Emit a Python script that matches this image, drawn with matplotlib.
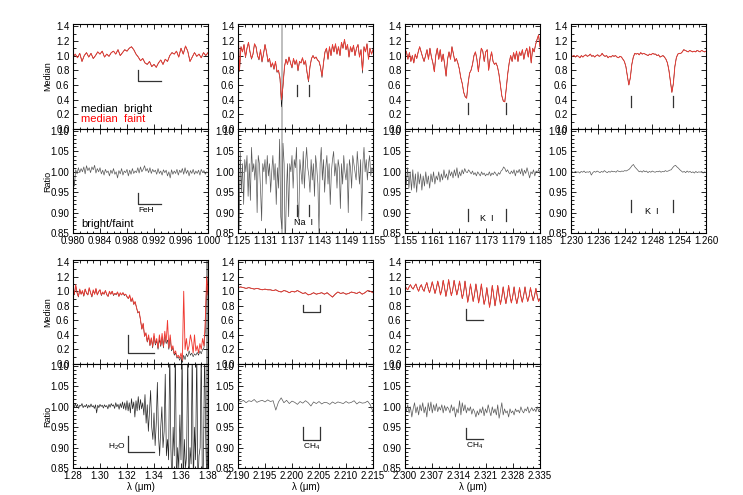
import numpy as np
import matplotlib
matplotlib.use("Agg")
import matplotlib.pyplot as plt
from matplotlib.ticker import AutoMinorLocator, FormatStrFormatter

# ---- wavelength ranges (micron) and tick settings per panel ----
ranges = {
    "A": (0.980, 1.000, "%.3f"),
    "B": (1.125, 1.155, "%.3f"),
    "C": (1.155, 1.185, "%.3f"),
    "D": (1.230, 1.260, "%.3f"),
    "E": (1.28, 1.38, "%.2f"),
    "F": (2.190, 2.215, "%.3f"),
    "G": (2.300, 2.335, "%.3f"),
}

# ---- median spectra (faint = red, bright = black) ----
medA_faint = [0.98, 1.02, 0.97, 1.03, 0.92, 1.00, 1.04, 0.98, 1.03, 0.96, 1.00, 1.05, 1.02, 1.06, 0.98,
              1.02, 0.99, 1.04, 1.06, 1.02, 1.08, 1.00, 1.04, 1.08, 1.06, 1.10, 1.12, 1.08, 1.02, 0.98,
              0.93, 0.96, 0.90, 0.88, 0.92, 0.85, 0.88, 0.84, 0.90, 0.94, 0.88, 0.95, 0.92, 1.00, 1.04,
              1.02, 1.06, 0.98, 1.10, 1.02, 1.13, 1.06, 0.92, 0.98, 1.04, 0.99, 1.02, 0.97, 1.04, 1.00, 1.04]
medA_bright = list(medA_faint)  # indistinguishable at this scale

medB_faint = [1.45, 0.80, 1.12, 1.05, 1.15, 0.98, 1.10, 1.18, 1.05, 0.96, 1.02, 1.16, 1.12, 1.00, 0.95,
              1.08, 0.92, 1.02, 1.15, 1.05, 0.92, 0.96, 0.85, 0.90, 0.82, 0.92, 0.78, 0.80, 0.70, 0.40,
              0.60, 0.85, 0.95, 0.88, 0.98, 0.90, 0.84, 0.96, 0.88, 0.94, 0.80, 0.92, 0.90, 0.97, 0.88,
              0.93, 0.78, 0.66, 0.85, 0.96, 1.00, 0.96, 0.98, 0.94, 0.92, 0.85, 0.72, 0.90, 1.05, 1.10,
              0.95, 1.12, 1.00, 1.15, 1.05, 1.16, 1.02, 1.12, 1.00, 1.18, 1.10, 1.22, 1.08, 1.15, 0.98,
              1.12, 1.05, 1.14, 1.00, 1.10, 1.15, 0.98, 1.08, 0.80, 1.12, 1.05, 1.16, 0.95, 1.10, 1.02, 1.08]
medB_bright = [1.45, 0.78, 1.12, 1.05, 1.15, 0.97, 1.10, 1.18, 1.05, 0.95, 1.02, 1.16, 1.12, 1.00, 0.94,
               1.08, 0.91, 1.02, 1.15, 1.05, 0.91, 0.96, 0.84, 0.90, 0.81, 0.92, 0.77, 0.80, 0.68, 0.30,
               0.58, 0.85, 0.95, 0.88, 0.98, 0.90, 0.83, 0.96, 0.88, 0.94, 0.79, 0.92, 0.90, 0.97, 0.88,
               0.93, 0.77, 0.64, 0.85, 0.96, 1.00, 0.96, 0.98, 0.94, 0.92, 0.84, 0.70, 0.90, 1.05, 1.10,
               0.95, 1.12, 1.00, 1.15, 1.05, 1.16, 1.02, 1.12, 1.00, 1.18, 1.10, 1.22, 1.08, 1.15, 0.98,
               1.12, 1.05, 1.14, 1.00, 1.10, 1.15, 0.98, 1.08, 0.76, 1.12, 1.05, 1.16, 0.95, 1.10, 1.02, 1.08]

medC_faint = [1.08, 1.05, 0.95, 1.04, 0.92, 1.00, 0.90, 1.02, 0.96, 1.05, 1.12, 1.05, 0.98, 0.92, 1.00,
              1.08, 0.95, 1.10, 0.98, 0.90, 0.78, 1.00, 1.10, 0.95, 1.08, 0.92, 1.02, 0.88, 0.72, 0.95,
              1.05, 0.95, 1.12, 1.02, 0.92, 0.96, 0.90, 0.82, 0.70, 0.62, 0.50, 0.44, 0.42, 0.62, 0.76,
              0.80, 0.88, 1.00, 1.05, 0.95, 0.78, 0.95, 1.10, 1.06, 0.92, 1.05, 1.08, 0.80, 0.95, 1.05,
              0.92, 0.88, 0.90, 0.85, 0.75, 0.60, 0.45, 0.38, 0.37, 0.55, 0.75, 0.90, 1.00, 0.92, 1.04,
              0.95, 1.06, 0.92, 1.05, 1.00, 1.08, 0.95, 1.05, 1.10, 0.98, 1.12, 0.90, 1.10, 1.05, 1.15,
              1.22, 1.28, 1.12]
medC_bright = list(medC_faint)

medD_faint = [1.00, 0.99, 1.00, 0.98, 1.00, 0.99, 0.97, 1.00, 0.98, 1.00, 1.01, 0.99, 1.00, 1.02, 0.99,
              1.00, 0.98, 1.00, 1.01, 0.99, 1.00, 1.03, 1.00, 0.99, 1.00, 0.97, 0.99, 0.98, 1.00, 0.99,
              1.00, 0.98, 0.97, 0.99, 0.98, 0.95, 0.92, 0.85, 0.72, 0.60, 0.70, 0.88, 0.98, 1.03, 1.02,
              1.03, 1.01, 1.04, 1.02, 1.03, 1.02, 1.01, 1.00, 1.02, 1.01, 1.03, 1.02, 1.02, 1.00, 1.01,
              0.98, 0.99, 1.00, 0.98, 0.95, 0.90, 0.80, 0.65, 0.50, 0.62, 0.85, 0.97, 1.02, 1.03, 1.03,
              1.05, 1.08, 1.07, 1.06, 1.05, 1.07, 1.06, 1.05, 1.06, 1.05, 1.07, 1.06, 1.05, 1.07, 1.06,
              1.05, 1.06]
medD_bright = list(medD_faint)

medE_bright = [1.05, 0.95, 1.08, 0.98, 0.92, 1.02, 0.96, 1.00, 0.93, 1.03, 0.97, 0.95, 1.04, 0.98, 0.92,
               1.01, 0.96, 1.03, 0.95, 0.99, 1.02, 0.94, 0.98, 0.96, 1.01, 0.95, 0.93, 0.99, 0.96, 1.00,
               0.94, 0.97, 0.95, 0.99, 0.93, 0.97, 0.95, 0.98, 0.94, 0.96, 0.92, 0.90, 0.94, 0.86, 0.90,
               0.82, 0.85, 0.78, 0.70, 0.72, 0.60, 0.48, 0.55, 0.38, 0.42, 0.30, 0.38, 0.25, 0.35, 0.22,
               0.38, 0.26, 0.32, 0.20, 0.34, 0.24, 0.36, 0.22, 0.38, 0.28, 0.33, 0.20, 0.36, 0.18, 0.22,
               0.12, 0.15, 0.08, 0.10, 0.05, 0.10, 0.02, 0.12, 0.06, 0.14, 0.10, 0.18, 0.12, 0.15, 0.10,
               0.14, 0.12, 0.16, 0.12, 0.18, 0.14, 0.20, 0.22, 0.45, 1.20, 0.95]
medE_faint = [1.05, 0.96, 1.09, 0.98, 0.93, 1.03, 0.96, 1.01, 0.94, 1.03, 0.98, 0.95, 1.05, 0.98, 0.93,
              1.02, 0.96, 1.04, 0.95, 1.00, 1.02, 0.95, 0.99, 0.96, 1.01, 0.96, 0.93, 1.00, 0.96, 1.00,
              0.95, 0.97, 0.96, 0.99, 0.93, 0.98, 0.95, 0.98, 0.95, 0.96, 0.93, 0.90, 0.95, 0.86, 0.91,
              0.82, 0.86, 0.78, 0.71, 0.72, 0.61, 0.48, 0.56, 0.38, 0.43, 0.31, 0.40, 0.26, 0.36, 0.24,
              0.42, 0.28, 0.35, 0.22, 0.40, 0.26, 0.42, 0.24, 0.45, 0.30, 0.60, 0.22, 0.40, 0.20, 0.25,
              0.14, 0.18, 0.10, 0.12, 0.08, 0.15, 0.05, 1.00, 0.20, 0.35, 0.18, 0.25, 0.40, 0.30, 0.15,
              0.40, 0.18, 0.25, 0.15, 0.28, 0.20, 0.35, 0.25, 0.60, 1.20, 0.95]

medF_faint = [1.05, 1.06, 1.05, 1.04, 1.05, 1.04, 1.03, 1.04, 1.03, 1.02, 1.03, 1.02, 1.02, 1.01, 1.02,
              1.00, 0.99, 1.01, 1.00, 0.98, 1.00, 0.99, 1.01, 0.99, 0.97, 0.98, 0.95, 0.96, 0.98, 0.96,
              0.97, 0.98, 0.96, 0.98, 0.95, 0.92, 0.96, 0.99, 0.97, 0.98, 0.96, 0.97, 0.99, 0.98, 0.97,
              0.99, 0.96, 0.98, 1.01, 1.00, 0.98]
medF_bright = list(medF_faint)

medG_faint = [1.08, 1.04, 1.02, 1.06, 1.09, 1.05, 1.03, 1.07, 1.10, 1.04, 1.00, 1.06, 1.09, 1.03, 1.00,
              1.07, 1.12, 1.04, 0.98, 1.05, 1.13, 1.05, 0.97, 1.04, 1.14, 1.06, 0.95, 1.02, 1.15, 1.05,
              0.93, 1.03, 1.16, 1.04, 0.94, 1.02, 1.15, 1.05, 0.95, 1.03, 1.14, 1.02, 0.90, 0.98, 1.14,
              1.00, 0.85, 0.95, 1.10, 0.98, 0.86, 0.96, 1.10, 0.98, 0.84, 0.95, 1.10, 0.95, 0.82, 0.90,
              1.05, 0.92, 0.78, 0.90, 1.08, 0.95, 0.80, 0.92, 1.08, 0.94, 0.82, 0.92, 1.06, 0.93, 0.83,
              0.94, 1.08, 0.94, 0.84, 0.93, 1.06, 0.92, 0.83, 0.92, 1.05, 0.93, 0.85, 0.94, 1.06, 0.94,
              0.86, 0.93, 1.05, 0.95, 0.87, 0.94, 1.04, 0.93, 0.86, 0.90]
medG_bright = list(medG_faint)

# ---- bright/faint ratio spectra ----
ratA = [1.000, 0.965, 1.005, 0.995, 1.010, 0.998, 1.008, 1.000, 1.012, 0.995, 1.015, 1.003, 1.010, 0.998,
        1.012, 1.005, 1.016, 0.997, 1.008, 1.000, 1.010, 0.995, 1.004, 0.992, 1.006, 0.998, 1.002, 0.990,
        1.004, 0.996, 1.008, 0.994, 1.000, 0.985, 1.003, 0.995, 1.008, 0.992, 1.002, 0.998, 1.006, 0.990,
        1.004, 0.994, 1.008, 0.996, 1.002, 0.998, 1.010, 0.997, 1.012, 1.000, 1.006, 1.015, 1.002, 1.008,
        0.998, 1.010, 0.996, 1.006, 1.000, 1.004, 0.994, 1.008, 0.996, 1.002, 0.992, 1.005, 0.998, 1.004,
        0.990, 1.000, 0.985, 1.005, 0.994, 1.002, 0.996, 1.006, 0.992, 1.004, 0.998, 1.008, 0.994, 1.010,
        0.996, 1.004, 0.990, 1.003, 0.996, 1.006, 0.994, 1.002, 0.996, 1.004, 0.992, 1.006, 0.998, 1.003,
        0.994, 1.000, 0.998]

ratB = [1.08, 0.86, 1.05, 0.95, 1.02, 0.92, 1.03, 1.00, 1.04, 0.94, 1.02, 0.93, 1.06, 1.00, 1.02, 0.98,
        1.03, 0.90, 1.04, 1.02, 0.96, 0.88, 1.02, 1.00, 1.03, 0.97, 1.04, 0.99, 1.02, 0.95, 1.00, 1.04,
        0.98, 1.02, 0.92, 1.01, 0.96, 1.08, 0.89, 0.86, 1.07, 1.02, 0.80, 0.95, 1.02, 0.89, 1.02, 1.00,
        1.04, 0.96, 1.03, 1.01, 1.06, 0.93, 0.88, 1.03, 1.00, 0.97, 1.05, 0.96, 1.02, 1.06, 1.01, 0.99,
        0.95, 1.03, 0.98, 1.02, 0.94, 1.04, 1.01, 0.97, 0.85, 1.02, 1.06, 0.98, 1.03, 0.95, 1.01, 1.04,
        0.97, 1.02, 0.92, 1.00, 1.03, 1.05, 0.99, 1.02, 0.96, 1.03, 1.01, 0.91, 1.02, 0.97, 1.04, 1.00,
        0.98, 1.02, 0.90, 1.03, 1.01, 0.96, 1.04, 1.02, 1.00, 0.98, 1.05, 1.01, 0.97, 1.03, 0.88, 1.02,
        1.06, 1.00, 1.03, 0.98, 1.02, 1.04, 0.99, 1.01, 1.00]

ratC = [1.000, 0.970, 1.010, 0.960, 1.000, 0.955, 1.005, 0.960, 0.995, 0.950, 1.000, 0.970, 0.995, 0.955,
        0.990, 0.965, 1.000, 0.970, 0.990, 0.960, 0.995, 0.975, 1.000, 0.970, 0.990, 0.980, 1.000, 0.975,
        0.995, 0.980, 1.005, 0.985, 0.995, 0.980, 1.005, 0.990, 1.000, 0.985, 1.005, 0.990, 1.010, 0.985,
        1.000, 0.990, 1.005, 0.995, 1.008, 1.000, 0.998, 1.005, 1.000, 0.995, 1.002, 0.993, 0.998, 0.990,
        1.000, 0.995, 0.990, 1.000, 0.993, 0.997, 0.990, 0.995, 0.992, 1.000, 0.990, 0.997, 0.993, 1.000,
        0.995, 0.990, 0.998, 0.994, 1.002, 1.005, 1.012, 1.008, 1.000, 1.005, 0.998, 0.995, 1.002, 0.996,
        1.005, 0.990, 1.003, 0.998, 1.006, 0.995, 1.008, 0.990, 1.004, 0.996, 1.010, 0.998, 0.985, 1.000,
        0.995, 1.005, 0.990, 1.002, 0.998, 1.006, 0.995]

ratD = [0.999, 1.000, 0.998, 1.001, 0.999, 1.000, 0.997, 1.001, 0.999, 1.002, 0.998, 1.000, 0.999, 1.001,
        0.992, 0.998, 1.001, 0.999, 1.002, 1.000, 0.998, 1.001, 0.999, 1.003, 1.000, 0.998, 1.001, 0.999,
        1.002, 1.000, 1.001, 0.999, 1.003, 1.001, 1.000, 1.002, 1.001, 1.003, 1.002, 1.004, 1.006, 1.010,
        1.015, 1.018, 1.012, 1.008, 1.004, 1.000, 1.002, 0.999, 1.003, 1.000, 1.002, 0.998, 1.001, 0.999,
        1.002, 1.000, 0.999, 1.001, 1.000, 1.002, 0.999, 1.001, 1.000, 1.003, 1.001, 1.002, 1.004, 1.005,
        1.010, 1.014, 1.016, 1.012, 1.009, 1.005, 1.002, 0.999, 1.001, 0.998, 1.002, 0.999, 1.001, 0.998,
        1.000, 0.997, 1.001, 0.998, 1.000, 0.999, 1.001, 0.997, 1.000, 0.998]

ratE = [1.005, 0.998, 1.008, 1.000, 1.006, 0.996, 1.004, 1.002, 1.008, 0.998, 1.003, 1.000, 1.006, 0.997,
        1.004, 0.999, 1.007, 1.000, 1.003, 0.996, 1.005, 0.985, 1.004, 0.998, 1.006, 1.001, 1.004, 0.997,
        1.005, 1.000, 1.003, 0.995, 1.006, 0.999, 1.008, 1.002, 1.005, 0.996, 1.010, 1.000, 1.006, 0.994,
        1.008, 0.998, 1.012, 0.995, 1.010, 0.992, 1.015, 0.990, 1.010, 0.985, 1.020, 0.995, 1.012, 0.975,
        1.015, 0.990, 1.025, 0.992, 1.018,
        0.995, 1.010, 0.980, 1.030, 0.960, 1.005, 0.940, 0.990, 1.040, 0.950, 0.920, 0.985, 0.905, 0.960,
        1.060, 0.930, 0.880, 0.950, 1.000, 0.900, 0.940, 1.080, 0.880, 0.920,
        0.870, 1.150, 0.900, 0.800, 0.950, 0.880, 1.150, 0.800, 0.900, 0.850, 0.980, 0.870, 1.150, 0.800,
        0.920, 0.850, 0.880, 1.150, 0.800, 0.900, 0.860, 1.150, 0.800, 0.950, 0.870, 1.150, 0.800, 0.880,
        0.900, 1.150, 0.800, 0.870, 1.150, 0.920, 0.800, 0.900]

ratF = [1.018, 1.012, 1.016, 1.010, 1.015, 1.013, 1.018, 1.011, 1.014, 1.016, 1.012, 1.017, 1.013, 1.015,
        0.992, 1.012, 1.022, 1.010, 1.016, 1.008, 1.014, 1.011, 1.006, 1.013, 1.009, 1.015, 1.010, 1.002,
        1.012, 1.008, 1.013, 1.007, 1.011, 1.010, 1.006, 1.012, 1.008, 1.012, 1.010, 1.008, 1.013, 1.009,
        1.011, 1.015, 1.007, 1.012, 1.009, 1.010, 1.014, 1.005, 0.988]

ratG = [1.000, 0.990, 1.005, 0.985, 1.000, 0.975, 0.995, 1.010, 0.985, 1.000, 0.980, 1.005, 0.990, 1.010,
        0.985, 1.000, 0.975, 1.010, 0.990, 1.012, 0.985, 1.005, 0.990, 1.008, 0.988, 1.000, 0.992, 1.005,
        0.985, 1.003, 0.990, 1.000, 0.995, 0.985, 1.005, 0.990, 1.000, 0.975, 0.995, 0.985, 1.015, 0.980,
        1.010, 0.990, 1.005, 0.985, 0.998, 0.990, 1.000, 0.982, 0.995, 0.988, 0.975, 0.990, 0.980, 0.995,
        0.985, 1.000, 0.978, 0.995, 0.985, 1.005, 0.990, 0.978, 1.000, 0.985, 0.995, 0.980, 1.005, 0.972,
        0.990, 1.010, 0.980, 0.995, 0.985, 0.990, 0.975, 0.995, 0.985, 0.990, 0.980, 0.995, 0.988, 0.992,
        0.985, 1.000, 0.990, 0.985, 0.995, 0.990, 1.000, 0.985, 0.992, 0.998, 0.990, 0.995, 0.988, 1.000,
        0.990, 0.995]

medians = {
    "A": (medA_bright, medA_faint), "B": (medB_bright, medB_faint), "C": (medC_bright, medC_faint),
    "D": (medD_bright, medD_faint), "E": (medE_bright, medE_faint), "F": (medF_bright, medF_faint),
    "G": (medG_bright, medG_faint),
}
ratios = {"A": ratA, "B": ratB, "C": ratC, "D": ratD, "E": ratE, "F": ratF, "G": ratG}

plt.rcParams["font.family"] = ["Liberation Sans", "DejaVu Sans"]
plt.rcParams["font.size"] = 7
plt.rcParams["mathtext.fontset"] = "custom"
plt.rcParams["mathtext.rm"] = "Liberation Sans"

fig = plt.figure(figsize=(7.43, 4.95), dpi=100)
W, H = 743.0, 495.0

lefts = {"A": 73, "B": 238, "C": 405, "D": 571, "E": 73, "F": 238, "G": 405}
rows = {"A": 0, "B": 0, "C": 0, "D": 0, "E": 1, "F": 1, "G": 1}
# (median top, border, ratio bottom) in pixels for each row
rowpix = [(24, 129, 233), (260, 364, 468)]
pw = 135

MED_YLIM = (0.0, 1.43)
RAT_YLIM = (0.85, 1.105)


def style(ax):
    ax.tick_params(which="both", direction="in", top=True, right=True, width=0.6,
                   labelsize=7, pad=2.5)
    ax.tick_params(which="major", length=3.5)
    ax.tick_params(which="minor", length=1.8)
    for s in ax.spines.values():
        s.set_linewidth(0.8)


axes = {}
for key, (lo, hi, fmt) in ranges.items():
    top, mid, bot = rowpix[rows[key]]
    l = lefts[key] / W
    axm = fig.add_axes([l, 1 - mid / H, pw / W, (mid - top) / H])
    axr = fig.add_axes([l, 1 - bot / H, pw / W, (bot - mid) / H])
    bright, faint = medians[key]
    xm = np.linspace(lo, hi, len(faint))
    axm.plot(xm, bright, color="black", lw=0.35)
    axm.plot(xm, faint, color="#f03a32", lw=0.65)
    rat = ratios[key]
    xr = np.linspace(lo, hi, len(rat))
    axr.plot(xr, rat, color="0.15" if key == "E" else "0.35", lw=0.5)

    for ax in (axm, axr):
        ax.set_xlim(lo, hi)
        ax.set_xticks(np.linspace(lo, hi, 6))
        ax.xaxis.set_major_formatter(FormatStrFormatter(fmt))
        ax.xaxis.set_minor_locator(AutoMinorLocator(4))
        style(ax)
    axm.set_ylim(*MED_YLIM)
    axm.set_yticks(np.arange(0, 1.41, 0.2))
    axm.yaxis.set_major_formatter(FormatStrFormatter("%.1f"))
    axm.yaxis.set_minor_locator(AutoMinorLocator(2))
    axm.tick_params(labelbottom=False)
    axr.set_ylim(*RAT_YLIM)
    axr.set_yticks([0.85, 0.90, 0.95, 1.00, 1.05, 1.10])
    axr.yaxis.set_major_formatter(FormatStrFormatter("%.2f"))
    axr.yaxis.set_minor_locator(AutoMinorLocator(5))
    axes[key] = (axm, axr)

# masked regions
for ax in axes["B"]:
    ax.axvspan(1.1345, 1.1350, color="0.75", lw=0, zorder=0)
for ax in axes["E"]:
    ax.axvspan(1.3785, 1.380, color="0.6", lw=0, zorder=0)

lc = "0.2"
lw = 0.9

# FeH
axm, axr = axes["A"]
axm.plot([0.9897, 0.9897, 0.9931], [0.81, 0.66, 0.66], color=lc, lw=lw)
axr.plot([0.9897, 0.9897, 0.9931], [0.949, 0.921, 0.921], color=lc, lw=lw)
axr.text(0.9897, 0.905, "FeH", fontsize=6, va="center", ha="left")
axm.text(0.9812, 0.27, "median  bright", fontsize=8, color="black", va="center")
axm.text(0.9812, 0.13, "median  faint", fontsize=8, color="red", va="center")
axr.text(0.9812, 0.872, "bright/faint", fontsize=8, color="black", va="center")

# Na I
axm, axr = axes["B"]
for xx in (1.1382, 1.1407):
    axm.plot([xx, xx], [0.45, 0.60], color=lc, lw=lw)
    axr.plot([xx, xx], [0.892, 0.919], color=lc, lw=lw)
axr.text(1.1395, 0.875, "Na  I", fontsize=6.5, ha="center", va="center")

# K I (1.17)
axm, axr = axes["C"]
for xx in (1.1690, 1.1775):
    axm.plot([xx, xx], [0.20, 0.35], color=lc, lw=lw)
    axr.plot([xx, xx], [0.880, 0.909], color=lc, lw=lw)
axr.text(1.1732, 0.885, "K  I", fontsize=6.5, ha="center", va="center")

# K I (1.25)
axm, axr = axes["D"]
for xx in (1.2434, 1.2526):
    axm.plot([xx, xx], [0.30, 0.45], color=lc, lw=lw)
    axr.plot([xx, xx], [0.901, 0.930], color=lc, lw=lw)
axr.text(1.2480, 0.903, "K  I", fontsize=6.5, ha="center", va="center")

# H2O
axm, axr = axes["E"]
axm.plot([1.3205, 1.3205, 1.340], [0.40, 0.147, 0.147], color=lc, lw=lw)
axr.plot([1.3205, 1.3205, 1.340], [0.929, 0.889, 0.889], color=lc, lw=lw)
axr.text(1.3190, 0.903, "H$_2$O", fontsize=6, ha="right", va="center")

# CH4 (2.20)
axm, axr = axes["F"]
axm.plot([2.2021, 2.2021, 2.2051, 2.2051], [0.81, 0.71, 0.71, 0.81], color=lc, lw=lw)
axr.plot([2.2021, 2.2021, 2.2051, 2.2051], [0.951, 0.919, 0.919, 0.951], color=lc, lw=lw)
axr.text(2.2021, 0.902, "CH$_4$", fontsize=6, ha="left", va="center")

# CH4 (2.32)
axm, axr = axes["G"]
axm.plot([2.3159, 2.3159, 2.3201], [0.76, 0.60, 0.60], color=lc, lw=lw)
axr.plot([2.3159, 2.3159, 2.3201], [0.949, 0.921, 0.921], color=lc, lw=lw)
axr.text(2.3159, 0.905, "CH$_4$", fontsize=6, ha="left", va="center")

# axis titles
for top, mid, bot in rowpix:
    fig.text(48 / W, 1 - (top + mid) / 2 / H, "Median", rotation=90, ha="center", va="center", fontsize=6.5)
    fig.text(48 / W, 1 - (mid + bot) / 2 / H, "Ratio", rotation=90, ha="center", va="center", fontsize=6.5)
for key in ("E", "F", "G"):
    cx = (lefts[key] + pw / 2) / W
    fig.text(cx, 1 - 487 / H, "λ (μm)", ha="center", va="center", fontsize=7)

fig.savefig("out.png", dpi=100)
